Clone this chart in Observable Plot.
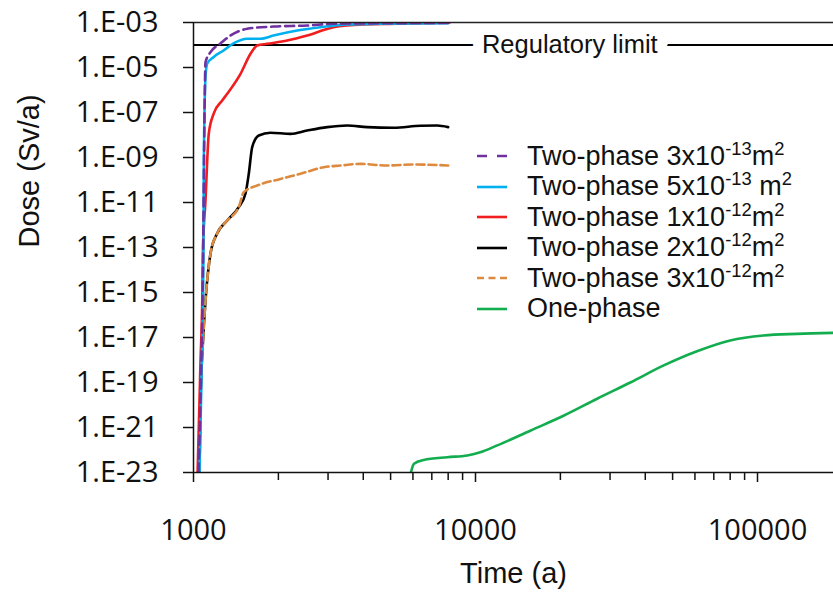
<!DOCTYPE html>
<html><head><meta charset="utf-8">
<script src="https://cdn.jsdelivr.net/npm/d3@7"></script>
<script src="https://cdn.jsdelivr.net/npm/@observablehq/plot@0.6"></script>
<style>
body{margin:0;background:#fff;}
#wrap{position:relative;width:833px;height:594px;}
#legend{position:absolute;left:477px;top:141px;font-family:"Liberation Sans",Arial,sans-serif;font-size:27px;color:#111;}
.row{height:30.5px;display:flex;align-items:center;white-space:nowrap;}
.row svg{margin-right:20px;flex:none;}
sup{font-size:0.68em;vertical-align:0;position:relative;top:-0.55em;}
</style></head><body><div id="wrap"></div>
<script>
// ---- data (time in years, dose in Sv/a) ----
const xDomain = [1000, 186000];
const yDomain = [1e-23, 1e-3];
const yTicks = [1e-3, 1e-5, 1e-7, 1e-9, 1e-11, 1e-13, 1e-15, 1e-17, 1e-19, 1e-21, 1e-23];
const xMajorTicks = [1000, 10000, 100000];
const xMinorTicks = [2000,3000,4000,5000,6000,7000,8000,9000,20000,30000,40000,50000,60000,70000,80000,90000];
const regulatoryLimit = 1e-4;
const regLabel = "Regulatory limit";
const regLabelTime = 21600;

const twoPhase3e13 = [[1042,1e-23],[1062,1e-19],[1080,1e-14],[1090,1e-9],[1097,1e-6],[1103,1.72e-5],[1149,4.8e-5],[1247,1.17e-4],[1353,2.64e-4],[1550,5.25e-4],[1921,6.6e-4],[2530,7.35e-4],[3137,8.75e-4],[8000,9.6e-4]];
const twoPhase5e13 = [[1050,1e-23],[1067,1.2e-19],[1085,7.4e-14],[1088,7.4e-10],[1103,3.7e-6],[1118,1.46e-5],[1177,2.87e-5],[1278,5.7e-5],[1386,1.17e-4],[1550,1.89e-4],[1728,1.89e-4],[1921,2.64e-4],[2332,4.4e-4],[2821,6.2e-4],[3508,8.15e-4],[4604,8.75e-4],[8000,9.3e-4]];
const twoPhase1e12 = [[1034,1e-23],[1059,9.5e-19],[1074,4.4e-16],[1080,7e-14],[1103,1.23e-11],[1133,1.17e-8],[1180,9.1e-8],[1264,3.4e-7],[1317,6.8e-7],[1468,5.25e-6],[1593,4.07e-5],[1682,9.5e-5],[1825,1.13e-4],[2149,1.58e-4],[2530,2.64e-4],[3137,6.2e-4],[4008,8.15e-4],[5277,8.75e-4],[8100,1.0e-3]];
const twoPhase2e12 = [[1050,1e-23],[1059,1.6e-20],[1081,7.4e-18],[1103,4.4e-16],[1149,5.4e-14],[1213,4.2e-13],[1317,1.58e-12],[1447,6.2e-12],[1529,2.5e-11],[1571,1.95e-10],[1615,2.9e-9],[1704,9.5e-9],[1875,1.26e-8],[2208,1.12e-8],[2530,1.58e-8],[2980,2.24e-8],[3508,2.63e-8],[4130,2.24e-8],[5133,2.1e-8],[6383,2.57e-8],[7313,2.63e-8],[8000,2.24e-8]];
const twoPhase3e12 = [[1048,1e-23],[1059,1.6e-20],[1081,7.4e-18],[1103,4.4e-16],[1149,5.4e-14],[1213,4.2e-13],[1317,1.58e-12],[1447,6.2e-12],[1508,2.9e-11],[1682,5.7e-11],[2035,1.12e-10],[2396,1.9e-10],[2899,3.7e-10],[3322,4.4e-10],[3910,5.2e-10],[4863,4.4e-10],[6043,4.9e-10],[8000,4.4e-10]];
const onePhase = [[5900,1e-23],[6050,2.45e-23],[6550,3.6e-23],[7950,4.8e-23],[9350,5.75e-23],[10400,7.9e-23],[11950,1.6e-22],[15700,7.4e-22],[20600,3.4e-21],[27000,1.9e-20],[35400,1.0e-19],[46500,5.75e-19],[61000,2.45e-18],[80000,7.4e-18],[105000,1.23e-17],[138000,1.45e-17],[186000,1.6e-17]];

const series = [
  {name: "Two-phase 3x10<sup>-13</sup>m<sup>2</sup>", data: twoPhase3e13, color: "#7030A0", dash: "9,5", legendDash: "10,10"},
  {name: "Two-phase 5x10<sup>-13</sup>&nbsp;m<sup>2</sup>", data: twoPhase5e13, color: "#00B0F0", dash: null, legendDash: null},
  {name: "Two-phase 1x10<sup>-12</sup>m<sup>2</sup>", data: twoPhase1e12, color: "#F01E1E", dash: null, legendDash: null},
  {name: "Two-phase 2x10<sup>-12</sup>m<sup>2</sup>", data: twoPhase2e12, color: "#000000", dash: null, legendDash: null},
  {name: "Two-phase 3x10<sup>-12</sup>m<sup>2</sup>", data: twoPhase3e12, color: "#DD8A3E", dash: "8,4", legendDash: "7,4.5"},
  {name: "One-phase", data: onePhase, color: "#12AD4E", dash: null, legendDash: null}
];
const drawOrder = [5, 3, 4, 2, 1, 0];

const fmtY = d => { const e = Math.round(Math.log10(d)); return "1.E" + (e < 0 ? "-" : "+") + String(Math.abs(e)).padStart(2, "0"); };

const lineMarks = drawOrder.map(i => {
  const s = series[i];
  return Plot.line(s.data, {x: d => d[0], y: d => d[1], stroke: s.color, strokeWidth: 2.6, strokeDasharray: s.dash, curve: "monotone-x", clip: true});
});

const chart = Plot.plot({
  width: 833, height: 594,
  marginLeft: 193, marginRight: 0, marginTop: 22, marginBottom: 122,
  x: {type: "log", domain: xDomain},
  y: {type: "log", domain: yDomain},
  style: {fontFamily: "'Liberation Sans', Arial, sans-serif", background: "white", color: "#111"},
  marks: [
    Plot.ruleY([regulatoryLimit], {stroke: "#000", strokeWidth: 2}),
    Plot.text([regLabel], {x: regLabelTime, y: regulatoryLimit, text: d => d, fontSize: 25.5, fill: "#111", stroke: "white", strokeWidth: 22, paintOrder: "stroke"}),
    ...lineMarks,
    Plot.ruleY([yDomain[1]], {stroke: "#222", strokeWidth: 1.5}),
    Plot.axisY({ticks: yTicks, tickFormat: fmtY, tickSize: 10, tickPadding: 25, fontSize: 29, fontFamily: "'Open Sans', sans-serif", label: null, strokeWidth: 1.5}),
    Plot.axisX({ticks: xMinorTicks, tickFormat: () => "", tickSize: 8, label: null, strokeWidth: 1.5}),
    Plot.axisX({ticks: xMajorTicks, tickFormat: d => String(d), tickSize: 10, tickPadding: 37, fontSize: 29, fontFamily: "'Open Sans', sans-serif", label: null, strokeWidth: 1.5}),
    Plot.ruleX([xDomain[0]], {stroke: "#111", strokeWidth: 1.5}),
    Plot.ruleY([yDomain[0]], {stroke: "#111", strokeWidth: 1.5}),
    Plot.text(["Dose (Sv/a)"], {frameAnchor: "left", dx: -164, rotate: -90, fontSize: 29, fill: "#111"}),
    Plot.text(["Time (a)"], {frameAnchor: "bottom", dy: 110, fontSize: 29, fill: "#111"})
  ]
});
const wrap = document.getElementById("wrap");
wrap.appendChild(chart);

const legend = document.createElement("div");
legend.id = "legend";
series.forEach(s => {
  const row = document.createElement("div");
  row.className = "row";
  row.innerHTML = `<svg width="30" height="6"><line x1="0" x2="30" y1="3" y2="3" stroke="${s.color}" stroke-width="2.6" ${s.legendDash ? `stroke-dasharray="${s.legendDash}"` : ""}/></svg><span>${s.name}</span>`;
  legend.appendChild(row);
});
wrap.appendChild(legend);
</script></body></html>
